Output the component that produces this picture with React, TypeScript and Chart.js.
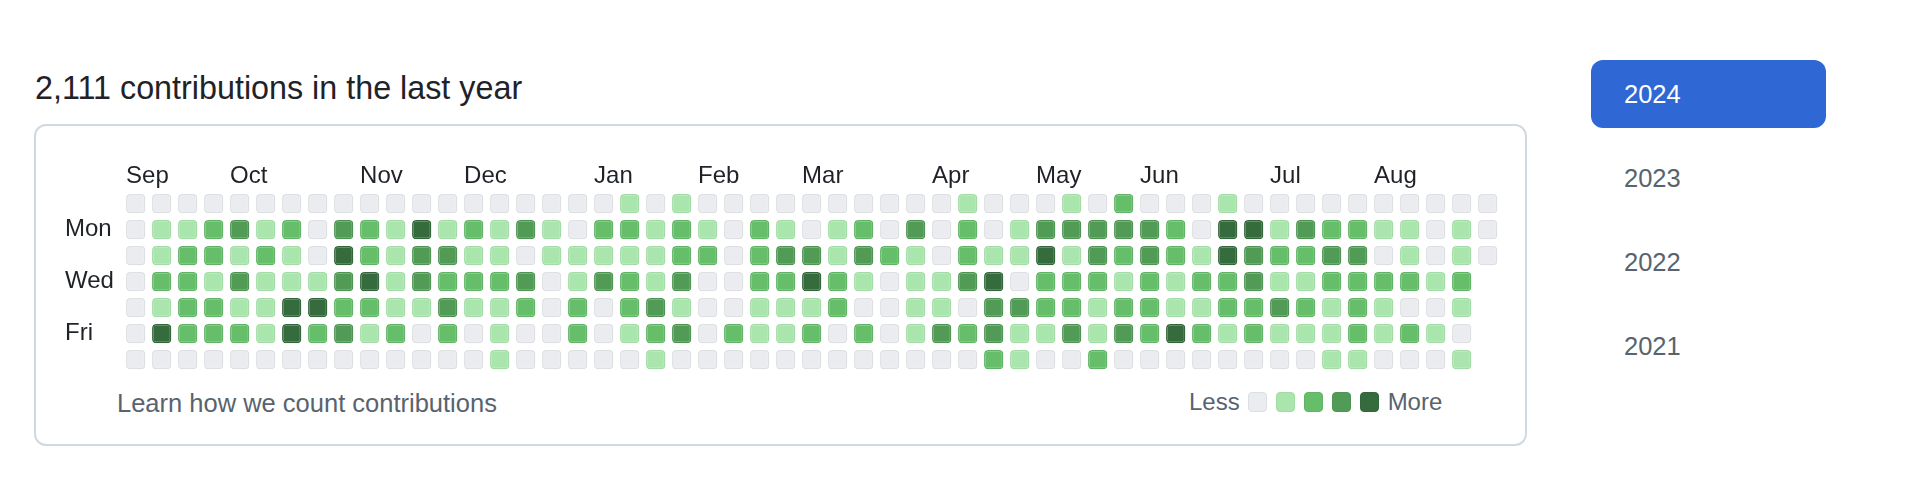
import React, { useEffect, useRef } from 'react';
import { Chart, registerables } from 'chart.js';

Chart.register(...registerables);

// contribution levels (0-4) per weekday row, one value per week column
const SUN = [0,0,0,0,0,0,0,0,0,0, 0,0,0,0,0,0,0,0,0,1, 0,1,0,0,0,0,0,0,0,0, 0,0,1,0,0,0,1,0,2,0, 0,0,1,0,0,0,0,0,0,0, 0,0,0];
const MON = [0,1,1,2,3,1,2,0,3,2, 1,4,1,2,1,3,1,0,2,2, 1,2,1,0,2,1,0,1,2,0, 3,0,2,0,1,3,3,3,3,3, 2,0,4,4,1,3,2,2,1,1, 0,1,0];
const TUE = [0,1,2,2,1,2,1,0,4,2, 1,3,3,1,1,0,1,1,1,1, 1,2,2,0,2,3,3,1,3,2, 1,0,2,1,1,4,1,3,2,3, 2,1,4,3,2,2,3,3,0,1, 0,1,0];
const WED = [0,2,2,1,3,1,1,1,3,4, 1,3,2,2,2,3,0,1,3,2, 1,3,0,0,2,2,4,2,1,0, 1,1,3,4,0,2,2,2,1,2, 1,2,2,3,1,1,2,2,2,2, 1,2];
const THU = [0,1,2,2,1,1,4,4,2,2, 1,1,3,1,1,2,0,2,0,2, 3,1,0,0,1,1,1,2,0,0, 1,1,0,3,3,2,2,1,2,2, 1,1,2,2,3,2,1,2,1,0, 0,1];
const FRI = [0,4,2,2,2,1,4,2,3,1, 2,0,2,0,1,0,0,2,0,1, 2,3,0,2,1,1,2,0,2,0, 1,3,2,3,1,1,3,1,3,2, 4,2,1,2,1,1,1,2,1,2, 1,0];
const SAT = [0,0,0,0,0,0,0,0,0,0, 0,0,0,0,1,0,0,0,0,0, 1,0,0,0,0,0,0,0,0,0, 0,0,0,2,1,0,0,2,0,0, 0,0,0,0,0,0,1,1,0,0, 0,1];

const DAY_ROWS = [SUN, MON, TUE, WED, THU, FRI, SAT];
const DAY_NAMES = ['Sun', 'Mon', 'Tue', 'Wed', 'Thu', 'Fri', 'Sat'];
const DAY_TICKS = [1, 3, 5];

const MONTHS = ['Sep', 'Oct', 'Nov', 'Dec', 'Jan', 'Feb', 'Mar', 'Apr', 'May', 'Jun', 'Jul', 'Aug'];
const MONTH_START_WEEK = [0, 4, 9, 13, 18, 22, 26, 31, 35, 39, 44, 48];

const LEVEL_COLORS = ['#ebecf0', '#abe5ae', '#66bd6a', '#529b57', '#366b3e'];
const LEVEL_BORDERS = ['#dedfe3', '#a2dba5', '#61b465', '#4e9453', '#33663b'];

const YEARS = ['2024', '2023', '2022', '2021'];
const TOTAL = '2,111';

const FONT = '"Liberation Sans", Arial, Helvetica, sans-serif';
const TEXT = '#1f2328';
const MUTED = '#59636e';

export default function App() {
  const ref = useRef<HTMLCanvasElement>(null);

  useEffect(() => {
    if (!ref.current) return;
    const weeks = SUN.map((_, i) => String(i));
    const datasets = DAY_ROWS.map((row, r) => ({
      label: DAY_NAMES[r],
      data: weeks.map((_, c) => (c < row.length ? [r - 0.37, r + 0.37] : null)),
      backgroundColor: weeks.map((_, c) => LEVEL_COLORS[row[c] ?? 0]),
      borderColor: weeks.map((_, c) => LEVEL_BORDERS[row[c] ?? 0]),
      borderWidth: 1.5,
      borderRadius: 4,
      borderSkipped: false,
      grouped: false,
      barPercentage: 0.742,
      categoryPercentage: 1,
    }));
    const chart = new Chart(ref.current, {
      type: 'bar',
      data: { labels: weeks, datasets: datasets as any },
      options: {
        animation: false,
        responsive: false,
        devicePixelRatio: 1,
        layout: { padding: { left: 25, top: 0, right: 9.3, bottom: 7.3 } },
        plugins: { legend: { display: false }, tooltip: { enabled: false } },
        scales: {
          x: {
            position: 'top',
            grid: { display: false },
            border: { display: false },
            afterFit: (s: any) => { s.height = 50.7; s.paddingLeft = 0; s.paddingRight = 0; },
            ticks: {
              autoSkip: false,
              maxRotation: 0,
              minRotation: 0,
              align: 'start',
              labelOffset: -9.65,
              padding: -8,
              color: TEXT,
              font: { family: FONT, size: 24 },
              callback: (_v: any, i: number) => {
                const k = MONTH_START_WEEK.indexOf(i);
                return k >= 0 ? MONTHS[k] : '';
              },
            },
          },
          y: {
            type: 'linear',
            reverse: true,
            min: -0.5,
            max: 6.5,
            grid: { display: false },
            border: { display: false },
            afterFit: (s: any) => { s.width = 57.7; s.paddingTop = 0; s.paddingBottom = 0; },
            afterBuildTicks: (s: any) => { s.ticks = DAY_TICKS.map((v) => ({ value: v })); },
            ticks: {
              crossAlign: 'far',
              padding: 0,
              color: TEXT,
              font: { family: FONT, size: 24 },
              callback: (v: any) => DAY_NAMES[v as number] ?? '',
            },
          },
        },
      } as any,
    });
    return () => chart.destroy();
  }, []);

  return (
    <div style={{ position: 'fixed', left: 0, top: 0, width: 1916, height: 490, background: '#fff', fontFamily: FONT, overflow: 'hidden' }}>
      <div style={{ position: 'absolute', left: 35, top: 67.5, fontSize: 32.3, lineHeight: '40px', color: TEXT, whiteSpace: 'nowrap' }}>
        {TOTAL} contributions in the last year
      </div>
      <div style={{ position: 'absolute', left: 34, top: 124, width: 1493, height: 322, boxSizing: 'border-box', border: '2px solid #d1d9e0', borderRadius: 12 }} />
      <canvas ref={ref} width={1470} height={240} style={{ position: 'absolute', left: 40, top: 140, width: 1470, height: 240 }} />
      <div style={{ position: 'absolute', left: 117, top: 388, fontSize: 25.5, lineHeight: '30px', color: MUTED, whiteSpace: 'nowrap' }}>
        Learn how we count contributions
      </div>
      <div style={{ position: 'absolute', left: 1189, top: 387, height: 30, display: 'flex', alignItems: 'center', fontSize: 24, lineHeight: '30px', color: MUTED, whiteSpace: 'nowrap' }}>
        <span style={{ marginRight: 8 }}>Less</span>
        {LEVEL_COLORS.map((c, i) => (
          <span key={i} style={{ display: 'inline-block', width: 19.3, height: 19.3, boxSizing: 'border-box', background: c, border: `1.5px solid ${LEVEL_BORDERS[i]}`, borderRadius: 4, marginRight: 8.7 }} />
        ))}
        <span>More</span>
      </div>
      <div style={{ position: 'absolute', left: 1591, top: 60, width: 235, height: 68, background: '#2f68d5', borderRadius: 12 }} />
      {YEARS.map((y, i) => (
        <div key={y} style={{ position: 'absolute', left: 1624, top: 94 + i * 84 - 15, fontSize: 25.5, lineHeight: '30px', color: i === 0 ? '#ffffff' : MUTED, whiteSpace: 'nowrap' }}>
          {y}
        </div>
      ))}
    </div>
  );
}
